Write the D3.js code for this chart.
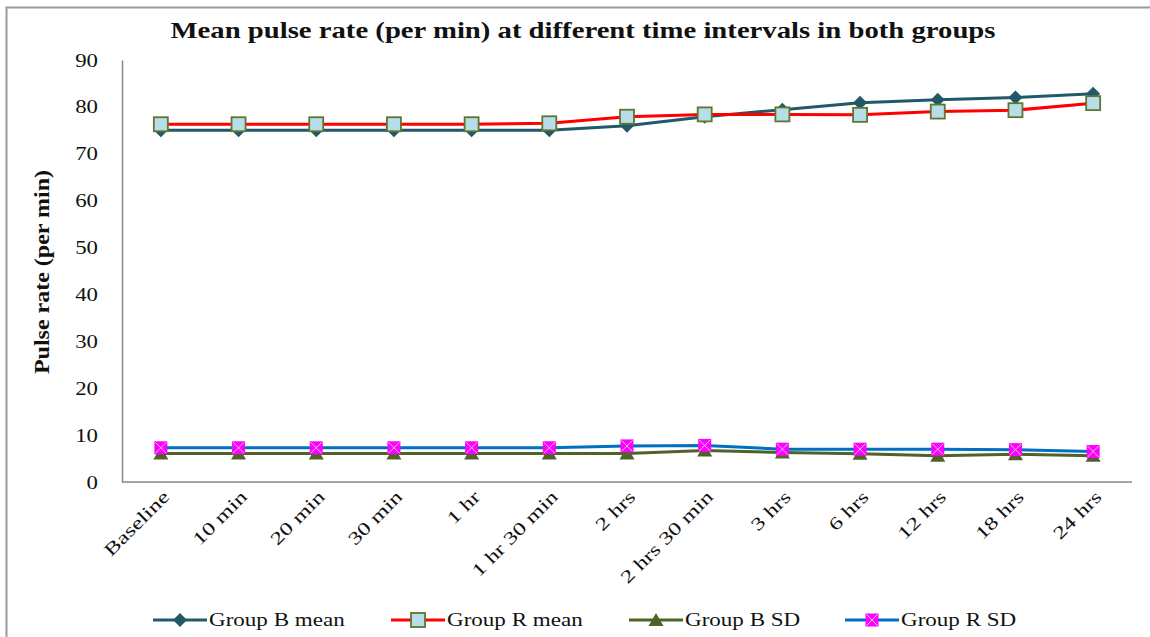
<!DOCTYPE html>
<html>
<head>
<meta charset="utf-8">
<script src="https://cdn.jsdelivr.net/npm/d3@7"></script>
<style>
html,body{margin:0;padding:0;background:#fff;}
text{font-family:"Liberation Serif","Times New Roman",serif;}
</style>
</head>
<body>
<svg id="chart" width="1150" height="637"></svg>
<script>
const categories = ["Baseline","10 min","20 min","30 min","1 hr","1 hr 30 min","2 hrs","2 hrs 30 min","3 hrs","6 hrs","12 hrs","18 hrs","24 hrs"];
const groupBMean = [75.0,75.0,75.0,75.0,75.0,75.0,76.0,77.9,79.4,80.9,81.5,82.0,82.8];
const groupRMean = [76.3,76.3,76.3,76.3,76.3,76.5,77.9,78.4,78.4,78.3,79.0,79.3,80.8];
const groupBSD = [6.1,6.1,6.1,6.1,6.1,6.1,6.1,6.7,6.3,6.0,5.6,5.9,5.6];
const groupRSD = [7.3,7.3,7.3,7.3,7.3,7.3,7.7,7.8,7.0,7.0,7.0,6.9,6.5];
const yTicks = [0,10,20,30,40,50,60,70,80,90];
const seriesNames = ["Group B mean","Group R mean","Group B SD","Group R SD"];

const svg = d3.select("#chart");
const mLeft = 122, mRight = 1132, mTop = 60, mBottom = 482;

function stretch(sel, f){
  sel.each(function(){
    const L = this.getComputedTextLength();
    d3.select(this).attr("textLength", L*f).attr("lengthAdjust","spacingAndGlyphs");
  });
}

// outer border
svg.append("rect").attr("x",6.5).attr("y",7.5).attr("width",1200).attr("height",700)
  .attr("fill","none").attr("stroke","#9a9a9a").attr("stroke-width",2);

const x = d3.scalePoint().domain(categories).range([mLeft,mRight]).padding(0.5);
const y = d3.scaleLinear().domain([0,90]).range([mBottom,mTop]);

// title
svg.append("text").attr("x",583).attr("y",38).attr("text-anchor","middle")
  .attr("font-size",23).attr("font-weight","bold").attr("fill","#111")
  .attr("textLength",825).attr("lengthAdjust","spacingAndGlyphs")
  .text("Mean pulse rate (per min) at different time intervals in both groups");

// y axis label
const yl = svg.append("text").attr("transform","translate(49,272) rotate(-90)").attr("text-anchor","middle")
  .attr("font-size",20).attr("font-weight","bold").attr("fill","#111")
  .text("Pulse rate (per min)");
stretch(yl, 1.2);

// axes
const yAxis = d3.axisLeft(y).tickValues(yTicks).tickSize(0).tickPadding(24);
const gy = svg.append("g").attr("transform",`translate(${mLeft},0)`).call(yAxis);
gy.select(".domain").attr("stroke","#878787").attr("stroke-width",1.5);
gy.selectAll("text").attr("font-size",19).attr("fill","#111").attr("font-family","Liberation Serif");
stretch(gy.selectAll("text"), 1.2);

const xAxis = d3.axisBottom(x).tickSize(0).tickPadding(0);
const gx = svg.append("g").attr("transform",`translate(0,${mBottom})`).call(xAxis);
gx.select(".domain").attr("stroke","#878787").attr("stroke-width",1.5).attr("d",`M${mLeft},0H${mRight}`);
gx.selectAll("text").attr("font-size",18).attr("fill","#111").attr("font-family","Liberation Serif")
  .attr("text-anchor","end").attr("dy",null).attr("y",null)
  .attr("transform","translate(9,16) rotate(-45)");
stretch(gx.selectAll("text"), 1.35);

const series = [
  {name:seriesNames[0], data:groupBMean, line:"#215968", marker:"diamond"},
  {name:seriesNames[1], data:groupRMean, line:"#ff0000", marker:"square"},
  {name:seriesNames[2], data:groupBSD, line:"#4f6228", marker:"triangle"},
  {name:seriesNames[3], data:groupRSD, line:"#0070c0", marker:"xsquare"}
];

function drawMarker(g, type, cx, cy){
  if(type==="diamond"){
    g.append("path").attr("d",`M${cx},${cy-7}L${cx+7},${cy}L${cx},${cy+7}L${cx-7},${cy}Z`).attr("fill","#215968");
  } else if(type==="square"){
    g.append("rect").attr("x",cx-7).attr("y",cy-7).attr("width",14).attr("height",14)
      .attr("fill","#b7dee8").attr("stroke","#5f7530").attr("stroke-width",1.8);
  } else if(type==="triangle"){
    g.append("path").attr("d",`M${cx},${cy-7}L${cx+7.5},${cy+6}L${cx-7.5},${cy+6}Z`).attr("fill","#4f6228");
  } else if(type==="xsquare"){
    g.append("rect").attr("x",cx-6.5).attr("y",cy-6.5).attr("width",13).attr("height",13).attr("fill","#ff00ff");
    g.append("path").attr("d",`M${cx-5.5},${cy-5.5}L${cx+5.5},${cy+5.5}M${cx+5.5},${cy-5.5}L${cx-5.5},${cy+5.5}`)
      .attr("stroke","#e6c8e6").attr("stroke-width",1);
  }
}

const line = d3.line().x((d,i)=>x(categories[i])).y(d=>y(d));
const order = [2,3,0,1];
order.forEach(k=>{
  const s = series[k];
  svg.append("path").datum(s.data).attr("d",line).attr("fill","none")
    .attr("stroke",s.line).attr("stroke-width",3).attr("stroke-linejoin","round");
});
order.forEach(k=>{
  const s = series[k];
  const g = svg.append("g");
  s.data.forEach((v,i)=>drawMarker(g, s.marker, x(categories[i]), y(v)));
});

// legend
const legX = [153, 391, 629, 845];
const legY = 620;
series.forEach((s,k)=>{
  const g = svg.append("g");
  g.append("line").attr("x1",legX[k]).attr("x2",legX[k]+54).attr("y1",legY).attr("y2",legY)
    .attr("stroke",s.line).attr("stroke-width",3);
  drawMarker(g, s.marker, legX[k]+27, legY);
  const t = g.append("text").attr("x",legX[k]+56).attr("y",legY+6).attr("font-size",18).attr("fill","#111")
    .text(s.name);
  stretch(t, 1.28);
});
</script>
</body>
</html>
